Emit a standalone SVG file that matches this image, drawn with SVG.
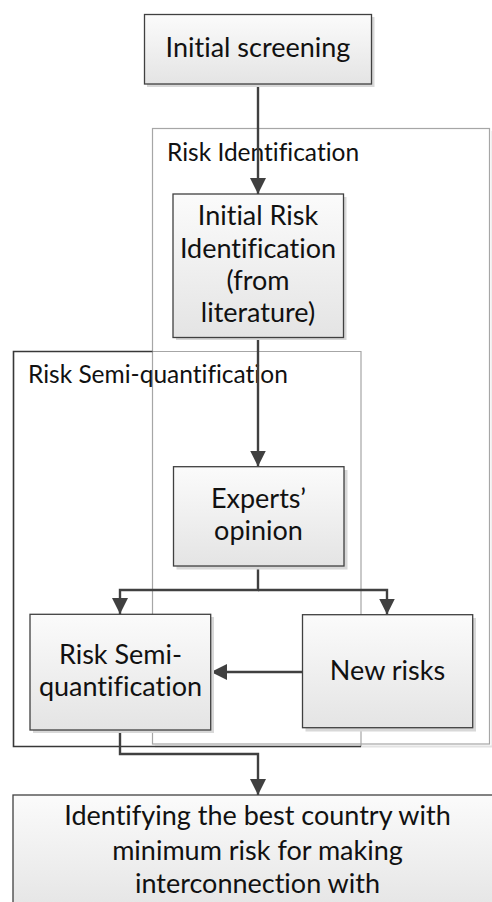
<svg xmlns="http://www.w3.org/2000/svg" width="492" height="902" viewBox="0 0 492 902">
<style>
.box{fill:url(#g);stroke:#404040;stroke-width:1.3}
.sh{fill:#d8d8d8}
.t{font-family:Lato,"Open Sans",sans-serif;font-size:27px;fill:#111;text-anchor:middle;font-variant-ligatures:none}
.lbl{font-family:Lato,"Open Sans",sans-serif;font-size:24.5px;fill:#111;font-variant-ligatures:none}
.c{fill:none;stroke:#404040;stroke-width:2.4}
</style>
<defs>
<linearGradient id="g" x1="0" y1="0" x2="0" y2="1">
<stop offset="0" stop-color="#fbfbfb"/>
<stop offset="1" stop-color="#e4e4e4"/>
</linearGradient>
<marker id="a" markerUnits="userSpaceOnUse" markerWidth="16" markerHeight="16" refX="16" refY="8" orient="auto" viewBox="0 0 16 16">
<path d="M0,0 L16,8 L0,16 z" fill="#404040"/>
</marker>
</defs>
<rect width="492" height="902" fill="#fff"/>
<g id="riskIdentificationContainer">
<path d="M155,746.5 H492.5 V131" fill="none" stroke="#e2e2e2" stroke-width="2"/>
<rect x="152.5" y="128.5" width="337" height="615.5" fill="none" stroke="#a6a6a6" stroke-width="1.2"/>
<text class="lbl" x="167" y="161">Risk Identification</text>
</g>
<g id="riskSemiContainer">
<path d="M152.5,351.5 H361 V746.5" fill="none" stroke="#a6a6a6" stroke-width="1.2"/>
<path d="M152.5,351.5 H13.5 V746.5 H361" fill="none" stroke="#383838" stroke-width="1.6"/>
<text class="lbl" x="28" y="383">Risk Semi-quantification</text>
</g>
<g id="connectors">
<path class="c" d="M258,84 V194" marker-end="url(#a)"/>
<path class="c" d="M258,337 V466.5" marker-end="url(#a)"/>
<path class="c" d="M258,566 V590 H120 V614" marker-end="url(#a)"/>
<path class="c" d="M258,590 H387 V614.5" marker-end="url(#a)"/>
<path class="c" d="M302,672 H211" marker-end="url(#a)"/>
<path class="c" d="M120,730 V754 H258 V795" marker-end="url(#a)"/>
</g>
<g id="initialScreening">
<rect class="sh" x="147" y="17" width="227.5" height="70"/>
<rect class="box" x="144.5" y="14.5" width="227" height="69.5"/>
<text class="t" x="258" y="57">Initial screening</text>
</g>
<g id="initialRiskIdentification">
<rect class="sh" x="176" y="197" width="170.5" height="143"/>
<rect class="box" x="173" y="194" width="170.5" height="143.5"/>
<text class="t" x="258" y="225">Initial Risk</text>
<text class="t" x="258" y="257.5">Identification</text>
<text class="t" x="258" y="290">(from</text>
<text class="t" x="258" y="322">literature)</text>
</g>
<g id="expertsOpinion">
<rect class="sh" x="176.5" y="470" width="171" height="99.5"/>
<rect class="box" x="173.5" y="466.7" width="170.5" height="99.3"/>
<text class="t" x="258.5" y="507.5">Experts’</text>
<text class="t" x="258.5" y="540">opinion</text>
</g>
<g id="riskSemiQuantification">
<rect class="sh" x="33" y="617" width="181" height="116"/>
<rect class="box" x="30" y="614.3" width="180.7" height="115.7"/>
<text class="t" x="120.5" y="663.5">Risk Semi-</text>
<text class="t" x="120.5" y="696">quantification</text>
</g>
<g id="newRisks">
<rect class="sh" x="305.5" y="618" width="170.5" height="113.5"/>
<rect class="box" x="302.5" y="614.7" width="170.2" height="113"/>
<text class="t" x="387.5" y="679.5">New risks</text>
</g>
<g id="identifyingBestCountry">
<rect class="box" x="13" y="795" width="492" height="120"/>
<text class="t" x="257.5" y="825">Identifying the best country with</text>
<text class="t" x="257.5" y="859.5">minimum risk for making</text>
<text class="t" x="257.5" y="892.5">interconnection with</text>
</g>
</svg>
